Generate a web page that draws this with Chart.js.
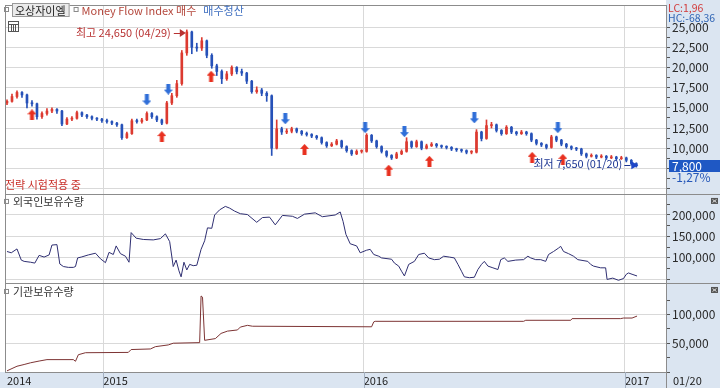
<!DOCTYPE html>
<html>
<head>
<meta charset="utf-8">
<script src="https://cdn.jsdelivr.net/npm/chart.js@4.4.1/dist/chart.umd.min.js"></script>
<style>
html,body{margin:0;padding:0;background:#ffffff;}
#wrap{position:relative;width:720px;height:388px;overflow:hidden;}
canvas{display:block;}
</style>
</head>
<body>
<div id="wrap"><canvas id="c" width="720" height="388"></canvas></div>
<script>
// ---- DATA (day 0 = 2014-08-19, weekly candles) ----
const yearTickDays = [0, 135, 500, 866];
const yearLabels = ['2014', '2015', '2016', '2017'];
const lastDateLabel = '01/20';

const pOpen = [15600,15800,16400,16900,16600,15600,15500,13900,14300,14600,
14800,14600,13000,13600,13700,14400,14100,13900,13700,13600,
13400,13300,13100,12900,11300,11800,13400,13300,13500,14300,
13900,13500,13100,15600,16500,18000,21800,24400,22500,22400,
23300,21500,20200,19500,18600,19200,20000,19500,19300,18300,
17000,17200,16800,16500,10000,12400,12000,12100,12400,12100,
11800,11700,11500,11300,10700,10300,10500,10900,10200,9700,
9300,9600,9600,11600,10900,10200,9600,9100,8800,9300,
9600,10800,10200,10800,10000,10300,10500,10300,10200,10100,
9900,9800,9700,9500,9500,12000,11200,12800,12900,12200,
11800,12600,12000,11800,12000,11800,11000,10600,10400,10100,
11400,11000,10500,10200,10000,9900,9300,9000,9100,8900,
9000,8800,8900,8700,8800,8500,8100];
const pHigh = [16000,16700,17100,17000,16700,15900,15600,14500,14900,15000,
14900,14700,13800,13900,14600,14500,14200,14000,13800,13700,
13600,13400,13200,13000,12000,13600,13600,13700,14500,14400,
14000,13600,15800,16800,18400,22100,24650,24500,23000,23700,
23400,21700,20400,19700,19500,20200,20100,19800,19400,18400,
17600,17400,17000,16600,13500,12600,12400,12600,12500,12200,
12000,11800,11600,11400,10800,10700,11100,11000,10300,9800,
9800,9800,11800,11700,11000,10300,9700,9200,9500,9800,
11300,10900,11000,10900,10500,10700,10600,10400,10300,10200,
10000,9900,9800,9700,12300,12100,13500,13200,13000,12300,
12800,12700,12100,12200,12100,11900,11100,10700,10500,11600,
11500,11100,10600,10300,10100,10000,9400,9300,9200,9200,
9100,9100,9000,9000,8900,8600,8200];
const pLow = [15400,15700,16200,16300,15000,15200,13600,13700,14100,14400,
14300,12800,12900,13400,13600,13900,13700,13500,13400,13200,
13100,12900,12700,11100,11200,11700,13100,13100,13400,13700,
13300,12900,13000,15400,16300,17800,21500,21700,22000,22100,
21200,19900,19000,18000,18400,19000,19200,19000,18000,16800,
16800,16500,15800,9100,9900,11700,11800,11900,11900,11600,
11500,11300,11100,10500,10100,10200,10400,10000,9500,9100,
9200,9400,9500,10700,10000,9400,8900,8600,8700,9200,
9500,10000,10100,9800,9900,10200,10100,10000,9900,9700,
9600,9500,9300,9300,9400,10900,11100,12500,12000,11600,
11700,11800,11600,11700,11600,10800,10400,10200,9900,10000,
10800,10300,10000,9800,9700,9100,8800,8900,8700,8800,
8600,8700,8500,8600,8300,7900,7650];
const pClose = [15800,16400,16900,16600,15600,15500,13900,14300,14600,14800,
14600,13000,13600,13700,14400,14100,13900,13700,13600,13400,
13300,13100,12900,11300,11800,13400,13300,13500,14300,13900,
13500,13100,15600,16500,18000,21800,24400,22500,22400,23300,
21500,20200,19500,18600,19200,20000,19500,19300,18300,17000,
17200,16800,16500,10000,12400,12000,12100,12400,12100,11800,
11700,11500,11300,10700,10300,10500,10900,10200,9700,9300,
9600,9600,11600,10900,10200,9600,9100,8800,9300,9600,
10800,10200,10800,10000,10300,10500,10300,10200,10100,9900,
9800,9700,9500,9500,12000,11200,12800,12900,12200,11800,
12600,12000,11800,12000,11800,11000,10600,10400,10100,11400,
11000,10500,10200,10000,9900,9300,9000,9100,8900,9000,
8800,8900,8700,8800,8500,8100,7800];
const candleDays = pClose.map((_, i) => i * 7);

const buyDays  = [35, 217, 286, 417, 535, 592, 736, 779];
const buyLevel = [14130, 11440, 18910, 9850, 7280, 8380, 8870, 8620];
const sellDays  = [196, 226, 390, 502, 557, 655, 772];
const sellLevel = [15970, 17320, 13640, 12540, 12050, 13760, 12540];

const frgDays = [0,6,14,20,24,33,39,45,52,59,63,70,74,79,86,93,96,99,104,114,
124,131,138,143,149,153,159,166,171,174,181,191,205,215,222,228,233,237,241,244,
248,252,256,261,266,272,277,281,287,291,298,306,312,319,327,337,350,358,368,376,
386,400,407,417,432,442,460,467,471,475,481,490,495,504,509,514,521,525,539,543,
549,553,557,563,571,577,585,591,599,606,612,620,627,632,637,641,648,655,660,665,
669,674,681,688,692,697,702,713,724,730,734,741,748,755,759,766,773,776,780,787,
794,800,814,818,822,832,839,841,849,857,864,868,871,876,883];
const frgQty = [115000,112000,121000,95000,92000,90000,88000,106000,102000,107000,130000,131000,86000,80000,78000,78000,80000,100000,102000,107000,
111000,98000,89000,113000,108000,128000,110000,104000,90000,159000,146000,143000,142000,145000,156000,138000,80000,95000,70000,56000,
90000,72000,85000,82000,83000,120000,140000,170000,169000,200000,212000,220000,216000,209000,203000,201000,183000,194000,195000,177000,
199000,197000,192000,202000,205000,196000,200000,207000,185000,155000,133000,128000,112000,118000,120000,108000,104000,100000,97000,88000,
81000,69000,58000,85000,92000,108000,111000,100000,96000,97000,104000,102000,100000,85000,69000,56000,54000,55000,73000,85000,
92000,81000,77000,73000,96000,100000,92000,95000,96000,104000,100000,96000,96000,92000,108000,115000,123000,127000,115000,110000,
104000,96000,92000,85000,81000,77000,77000,50000,53000,48000,52000,62000,65000,62000,58000];

const instDays = [0,7,14,24,33,45,56,93,96,100,110,170,174,201,208,226,233,270,272,274,
277,292,300,309,323,327,337,344,511,514,516,724,727,790,792,860,864,876,883];
const instQty = [2000,6000,10000,13000,16000,19000,21500,21500,18600,30000,33500,34000,39000,40000,44000,47000,50000,51000,132000,130000,
55000,58000,67000,71000,73000,78000,81000,79500,78500,87000,88000,88000,89800,89800,92700,92700,93700,93700,97100];

const priceMajor = [5000,7500,10000,12500,15000,17500,20000,22500,25000];
const frgMajor = [50000,100000,150000,200000];
const instMajor = [0,50000,100000];

// ---- STYLE ----
const UP = '#dc3a30', DOWN = '#2651b8';
const AXIS_BG = '#dbe5f1';
const GRID = '#d9d9d9';
const FONT = '"Noto Sans CJK KR", "Liberation Sans", sans-serif';
const TXT = '11px ' + FONT;
Chart.defaults.font.family = FONT;
Chart.defaults.font.size = 12;

const candleColor = i => (pClose[i] >= pOpen[i] ? UP : DOWN);
const fmt = v => v.toLocaleString('en-US');

function makeArrow(color, up) {
  const c = document.createElement('canvas');
  c.width = 9; c.height = 11;
  const g = c.getContext('2d');
  g.fillStyle = color;
  g.beginPath();
  if (up) {
    g.moveTo(4.5, 0); g.lineTo(9, 5); g.lineTo(6.5, 5); g.lineTo(6.5, 11);
    g.lineTo(2.5, 11); g.lineTo(2.5, 5); g.lineTo(0, 5);
  } else {
    g.moveTo(4.5, 11); g.lineTo(9, 6); g.lineTo(6.5, 6); g.lineTo(6.5, 0);
    g.lineTo(2.5, 0); g.lineTo(2.5, 6); g.lineTo(0, 6);
  }
  g.closePath(); g.fill();
  return c;
}
const upImg = makeArrow('#e8301f', true);
const downImg = makeArrow('#2f6ed8', false);

function withMinor(majors, step, max) {
  const t = [];
  majors.forEach(v => { t.push({ value: v }); if (v + step < max) t.push({ value: v + step }); });
  return t;
}

function yAxis(stackWeight, min, max, majors, step, labelFrom) {
  return {
    type: 'linear', position: 'right', stack: 'panes', stackWeight,
    min, max,
    afterBuildTicks: s => { s.ticks = withMinor(majors, step, max); },
    afterFit: s => { s.width = 54; s.paddingTop = 0; s.paddingBottom = 0; },
    ticks: {
      autoSkip: false, padding: 2, color: '#2a2a2a', font: { size: 12 },
      callback: v => (majors.includes(v) && v >= labelFrom ? fmt(v) : '')
    },
    grid: {
      color: c => (c.tick && majors.includes(c.tick.value) ? GRID : 'rgba(0,0,0,0)'),
      tickColor: '#555', tickLength: 4, drawTicks: true
    },
    border: { color: '#8c8c8c' }
  };
}

function bullet(ctx, x, y) {
  ctx.strokeStyle = '#8a8a8a'; ctx.lineWidth = 1;
  ctx.strokeRect(x + 0.5, y + 0.5, 4, 4);
}

const overlay = {
  id: 'overlay',
  beforeDraw(chart) {
    const { ctx, chartArea: a } = chart;
    ctx.save();
    ctx.fillStyle = AXIS_BG; ctx.fillRect(0, 0, chart.width, chart.height);
    ctx.fillStyle = '#ffffff'; ctx.fillRect(0, 0, a.right, a.bottom);
    ctx.restore();
  },
  afterDraw(chart) {
    const { ctx, chartArea: a, scales } = chart;
    const { x, y, y2, y3 } = scales;
    ctx.save();
    ctx.lineWidth = 1;
    // frames
    ctx.strokeStyle = '#8c8c8c';
    ctx.strokeRect(a.left - 0.5, a.top - 0.5, a.right - a.left + 1, a.bottom - a.top + 1);
    [y2.top, y3.top].forEach(t => {
      const yy = Math.round(t) + 0.5;
      ctx.beginPath(); ctx.moveTo(a.left, yy); ctx.lineTo(chart.width, yy); ctx.stroke();
    });
    ctx.beginPath(); ctx.moveTo(a.right + 0.5, a.bottom); ctx.lineTo(a.right + 0.5, chart.height); ctx.stroke();
    ctx.strokeStyle = '#a4b0c0';
    yearTickDays.forEach(d => {
      if (d > 0) {
        const px = Math.round(x.getPixelForValue(d)) + 0.5;
        ctx.beginPath(); ctx.moveTo(px, a.bottom); ctx.lineTo(px, chart.height); ctx.stroke();
      }
    });

    ctx.font = TXT;
    ctx.textBaseline = 'middle';
    ctx.textAlign = 'left';

    // legend row
    bullet(ctx, 4, 7);
    const name = '오상자이엘';
    const nw = ctx.measureText(name).width;
    ctx.fillStyle = '#ebebeb'; ctx.fillRect(12, 3, nw + 7, 14);
    ctx.strokeStyle = '#9a9a9a'; ctx.strokeRect(12.5, 3.5, nw + 6, 13);
    ctx.fillStyle = '#222'; ctx.fillText(name, 15, 10.5);
    const lx = 12 + nw + 7 + 4;
    bullet(ctx, lx, 7);
    ctx.fillStyle = '#b4473c';
    const t1 = 'Money Flow Index 매수';
    ctx.fillText(t1, lx + 8, 10.5);
    const t1w = ctx.measureText(t1).width;
    ctx.fillStyle = '#3f6fc0';
    ctx.fillText('매수청산', lx + 8 + t1w + 7, 10.5);

    // small grid icon
    ctx.strokeStyle = '#555';
    ctx.strokeRect(8.5, 21.5, 10, 10);
    ctx.beginPath();
    [11.5, 13.5, 15.5].forEach(vx => { ctx.moveTo(vx, 24); ctx.lineTo(vx, 31); });
    ctx.moveTo(8, 24.5); ctx.lineTo(19, 24.5);
    ctx.stroke();

    // highest annotation
    const hiIdx = pHigh.indexOf(Math.max(...pHigh));
    const hx = x.getPixelForValue(candleDays[hiIdx]);
    const hy = y.getPixelForValue(pHigh[hiIdx]) + 3;
    ctx.fillStyle = '#b83232'; ctx.strokeStyle = '#b83232';
    ctx.textAlign = 'right';
    ctx.fillText('최고 ' + fmt(pHigh[hiIdx]) + ' (04/29)', hx - 16, hy);
    ctx.beginPath(); ctx.moveTo(hx - 13, Math.round(hy) + 0.5); ctx.lineTo(hx - 5, Math.round(hy) + 0.5); ctx.stroke();
    ctx.beginPath(); ctx.moveTo(hx - 1, hy); ctx.lineTo(hx - 7, hy - 4); ctx.lineTo(hx - 7, hy + 4); ctx.closePath(); ctx.fill();

    // lowest annotation
    const loIdx = pLow.indexOf(Math.min(...pLow));
    const qx = x.getPixelForValue(candleDays[loIdx]);
    const qy = y.getPixelForValue(pLow[loIdx]);
    ctx.fillStyle = '#1c3592';
    ctx.fillText('최저 ' + fmt(pLow[loIdx]) + ' (' + lastDateLabel + ')', qx - 14, qy - 3);
    ctx.strokeStyle = '#1c3592';
    ctx.beginPath(); ctx.moveTo(qx - 12, Math.round(qy - 2) + 0.5); ctx.lineTo(qx - 6, Math.round(qy - 2) + 0.5); ctx.stroke();
    ctx.fillStyle = '#1e46c8';
    ctx.beginPath(); ctx.moveTo(qx + 2, qy - 2); ctx.lineTo(qx - 5, qy - 6); ctx.lineTo(qx - 5, qy + 2); ctx.closePath(); ctx.fill();

    ctx.textAlign = 'left';
    // strategy label
    ctx.fillStyle = '#c8302a';
    ctx.fillText('전략 시험적용 중', 5, y.bottom - 9);

    // panel titles
    bullet(ctx, 4, y2.top + 5);
    ctx.fillStyle = '#333';
    ctx.fillText('외국인보유수량', 13, y2.top + 7.5);
    bullet(ctx, 4, y3.top + 6);
    ctx.fillStyle = '#333';
    ctx.fillText('기관보유수량', 13, y3.top + 8.5);

    // right axis header
    ctx.font = '10.5px ' + FONT;
    ctx.fillStyle = AXIS_BG; ctx.fillRect(a.right + 1, 13, chart.width - a.right, 10);
    ctx.fillStyle = '#d23a3a'; ctx.fillText('LC:1,96', a.right + 2, 8);
    ctx.fillStyle = '#2f64b4'; ctx.fillText('HC:-68,36', a.right + 2, 18.5);

    // last price box
    ctx.font = '12px ' + FONT;
    const lastClose = pClose[pClose.length - 1];
    const py = Math.round(y.getPixelForValue(lastClose));
    ctx.fillStyle = '#1f58c4'; ctx.fillRect(a.right + 3, py - 6, chart.width - a.right - 3, 12);
    ctx.fillStyle = '#ffffff'; ctx.fillText(fmt(lastClose), a.right + 6, py);
    ctx.fillStyle = '#2456b8'; ctx.fillText('-1,27%', a.right + 6, py + 11);

    // small icons
    [y2.top + 4, y3.top + 4].forEach(iy => {
      ctx.fillStyle = '#555'; ctx.fillRect(711, iy, 7, 6);
      ctx.strokeStyle = '#ddd'; ctx.beginPath();
      ctx.moveTo(712.5, iy + 1.5); ctx.lineTo(716.5, iy + 4.5);
      ctx.moveTo(716.5, iy + 1.5); ctx.lineTo(712.5, iy + 4.5); ctx.stroke();
    });

    // last date in axis strip
    ctx.font = '11px ' + FONT;
    ctx.fillStyle = '#222';
    ctx.fillText(lastDateLabel, a.right + 7, a.bottom + 8.5);
    ctx.restore();
  }
};

new Chart(document.getElementById('c'), {
  type: 'line',
  data: {
    datasets: [
      { type: 'bar', label: 'wick', yAxisID: 'y', order: 3,
        data: candleDays.map((d, i) => ({ x: d, y: [pLow[i], pHigh[i]] })),
        backgroundColor: c => candleColor(c.dataIndex), borderWidth: 0,
        barThickness: 1, grouped: false },
      { type: 'bar', label: 'body', yAxisID: 'y', order: 2,
        data: candleDays.map((d, i) => ({ x: d, y: [pOpen[i], pClose[i]] })),
        backgroundColor: c => candleColor(c.dataIndex), borderWidth: 0,
        barThickness: 2, minBarLength: 1, grouped: false },
      { type: 'line', label: '외국인보유수량', yAxisID: 'y2', order: 1,
        data: frgDays.map((d, i) => ({ x: d, y: frgQty[i] })),
        borderColor: '#2f2f72', borderWidth: 1, pointRadius: 0, tension: 0, fill: false },
      { type: 'line', label: '기관보유수량', yAxisID: 'y3', order: 1,
        data: instDays.map((d, i) => ({ x: d, y: instQty[i] })),
        borderColor: '#7d3434', borderWidth: 1, pointRadius: 0, tension: 0, fill: false },
      { type: 'line', label: '매수', yAxisID: 'y', order: 0, showLine: false,
        data: buyDays.map((d, i) => ({ x: d, y: buyLevel[i] })),
        pointStyle: upImg, pointRadius: 5 },
      { type: 'line', label: '매수청산', yAxisID: 'y', order: 0, showLine: false,
        data: sellDays.map((d, i) => ({ x: d, y: sellLevel[i] })),
        pointStyle: downImg, pointRadius: 5 }
    ]
  },
  options: {
    responsive: false, animation: false, devicePixelRatio: 1,
    layout: { padding: { left: 3, top: 2, right: 0, bottom: 0 } },
    plugins: { legend: { display: false }, tooltip: { enabled: false } },
    scales: {
      x: {
        type: 'linear', position: 'bottom', min: -1.4, max: 923.6,
        offset: false,
        afterBuildTicks: s => { s.ticks = yearTickDays.map(v => ({ value: v })); },
        afterFit: s => { s.height = 16; s.paddingLeft = 0; s.paddingRight = 0; },
        ticks: { callback: (v, i) => yearLabels[i], align: 'start', autoSkip: false,
                 maxRotation: 0, padding: 2, color: '#222', font: { size: 11 } },
        grid: { offset: false, drawTicks: false,
                color: c => (c.tick && c.tick.value > 0 ? GRID : 'rgba(0,0,0,0)') },
        border: { color: '#8c8c8c' }
      },
      y: yAxis(190, 4334, 27610, priceMajor, 1250, 10000),
      y2: yAxis(90, 41700, 249000, frgMajor, 25000, 100000),
      y3: yAxis(90, 0, 154600, instMajor, 25000, 50000)
    }
  },
  plugins: [overlay]
});
</script>
</body>
</html>
